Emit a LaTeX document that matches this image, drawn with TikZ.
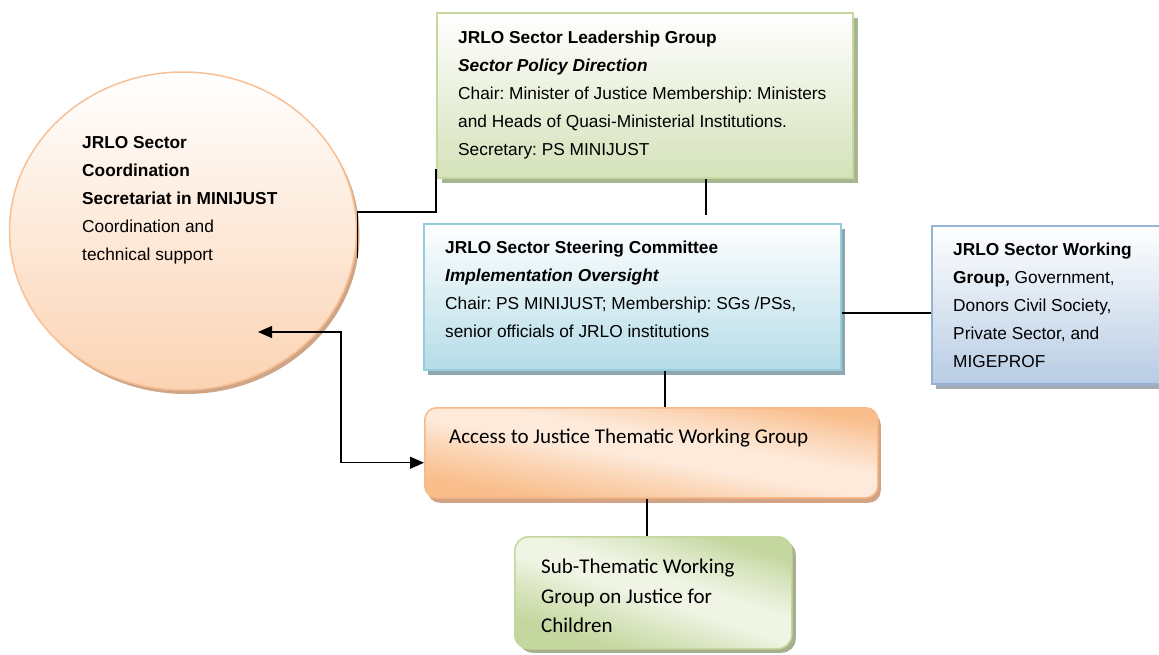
\documentclass[tikz,border=0pt]{standalone}
\usepackage{fontspec}
\setmainfont{Liberation Sans}
\newfontfamily\calfont{Carlito}
\usetikzlibrary{shapes.geometric,shadows,arrows.meta}
\definecolor{circfill}{HTML}{FBD3B3}
\definecolor{circline}{HTML}{F8C095}
\definecolor{circshad}{HTML}{CFA588}
\definecolor{leadfill}{HTML}{D5E2BA}
\definecolor{leadline}{HTML}{C6D8A0}
\definecolor{leadshad}{HTML}{A7B590}
\definecolor{steerfill}{HTML}{B5DCE7}
\definecolor{steerline}{HTML}{95CDDC}
\definecolor{steershad}{HTML}{8FA7AE}
\definecolor{workfill}{HTML}{B8CCE4}
\definecolor{workline}{HTML}{95B3D7}
\definecolor{workshad}{HTML}{A3ABB6}
\definecolor{orfill}{HTML}{F9BE8C}
\definecolor{orlight}{HTML}{FDEADB}
\definecolor{orline}{HTML}{F8B888}
\definecolor{orshad}{HTML}{D2A485}
\definecolor{subfill}{HTML}{C4D79E}
\definecolor{sublight}{HTML}{EFF4E4}
\definecolor{subline}{HTML}{C3D69B}
\definecolor{subshad}{HTML}{A6B091}
\pgfdeclareverticalshading{orsh}{100bp}{color(0bp)=(orfill); color(28bp)=(orfill); color(40bp)=(orfill!45!orlight); color(48bp)=(orlight); color(56bp)=(orlight); color(66bp)=(orfill!50!orlight); color(74bp)=(orfill); color(100bp)=(orfill)}
\pgfdeclareverticalshading{subsh}{100bp}{color(0bp)=(subfill); color(28bp)=(subfill); color(40bp)=(subfill!45!sublight); color(48bp)=(sublight); color(56bp)=(sublight); color(66bp)=(subfill!50!sublight); color(74bp)=(subfill); color(100bp)=(subfill)}
\newcommand\arfont{\fontsize{17.3}{28}\selectfont}
\newcommand\cafont{\calfont\fontsize{21}{29.5}\selectfont}
\frenchspacing
\begin{document}
\begin{tikzpicture}[x=1pt,y=-1pt,
  box/.style={rectangle, anchor=north west, line width=1.5pt, inner sep=0pt},
  txt/.style={anchor=north west, inner sep=0pt, align=left, font=\arfont},
  ctxt/.style={anchor=north west, inner sep=0pt, align=left, font=\cafont},
  conn/.style={line width=1.2pt, black},
  tipped/.style={line width=1.2pt, black, {Triangle[length=14pt,width=12pt]}-{Triangle[length=14pt,width=12pt]}}
]
\useasboundingbox (0,0) rectangle (1159,654);

\coordinate (xa) at (706,0);
\coordinate (xb) at (665,0);
\coordinate (xc) at (647,0);
\coordinate (ya) at (0,313);

% circle
\node[ellipse, line width=1.5pt, draw=circline, top color=white, bottom color=circfill,
  minimum width=347pt, minimum height=318pt, inner sep=0pt,
  drop shadow={shadow xshift=3pt, shadow yshift=-4pt, fill=circshad, opacity=1}]
  (circ) at (183,231) {};

% leadership group
\node[box, draw=leadline, top color=white, bottom color=leadfill,
  minimum width=416pt, minimum height=165pt,
  drop shadow={shadow xshift=5pt, shadow yshift=-5pt, fill=leadshad, opacity=1}]
  (lead) at (436,12) {};

% steering committee
\node[box, draw=steerline, top color=white, bottom color=steerfill,
  minimum width=417pt, minimum height=146pt,
  drop shadow={shadow xshift=4pt, shadow yshift=-5pt, fill=steershad, opacity=1}]
  (steer) at (423,223) {};

% working group
\node[box, draw=workline, top color=white, bottom color=workfill,
  minimum width=228pt, minimum height=158pt,
  drop shadow={shadow xshift=4pt, shadow yshift=-5pt, fill=workshad, opacity=1}]
  (work) at (931,225) {};

% access to justice
\node[box, rounded corners=12pt, draw=orline, shading=orsh, shading angle=-10,
  minimum width=453pt, minimum height=90pt,
  drop shadow={shadow xshift=3pt, shadow yshift=-5pt, fill=orshad, opacity=1}]
  (acc) at (424,407) {};

% sub-thematic
\node[box, rounded corners=14pt, draw=subline, shading=subsh, shading angle=-18,
  minimum width=277pt, minimum height=112pt,
  drop shadow={shadow xshift=4pt, shadow yshift=-4pt, fill=subshad, opacity=1}]
  (sub) at (514,536) {};

% connectors
\draw[conn] ([yshift=-27pt]circ.east) -- ([yshift=19pt]circ.east) -| ([yshift=10pt]lead.south west);
\draw[conn] (lead.south -| xa) -- ([yshift=8pt]steer.north -| xa);
\draw[conn] (steer.east |- ya) -- (work.west |- ya);
\draw[conn] (steer.south -| xb) -- (acc.north -| xb);
\draw[conn] (acc.south -| xc) -- (sub.north -| xc);
\coordinate (arrA) at (258,332);
\coordinate (arrB) at (341,332);
\draw[tipped] (arrA) -- (arrB) |- ([yshift=-10pt]acc.west);

% texts
\node[txt] (tcirc) at (82,136.7) {\textbf{JRLO Sector}\\\textbf{Coordination}\\\textbf{Secretariat in MINIJUST}\\Coordination and\\technical support};
\node[txt] (tlead) at (458,30.7) {\textbf{JRLO Sector Leadership Group}\\\textbf{\textit{Sector Policy Direction}}\\Chair: Minister of Justice Membership: Ministers\\and Heads of Quasi-Ministerial Institutions.\\Secretary: PS MINIJUST};
\node[txt] (tsteer) at (445,240.7) {\textbf{JRLO Sector Steering Committee}\\\textbf{\textit{Implementation Oversight}}\\Chair: PS MINIJUST; Membership: SGs /PSs,\\senior officials of JRLO institutions};
\node[txt] (twork) at (953,242.7) {\textbf{JRLO Sector Working}\\\textbf{Group,} Government,\\Donors Civil Society,\\Private Sector, and\\MIGEPROF};
\node[ctxt] (tacc) at (449,429) {Access to Justice Thematic Working Group};
\node[ctxt] (tsub) at (541,559) {Sub-Thematic Working\\Group on Justice for\\Children};
\end{tikzpicture}
\end{document}
